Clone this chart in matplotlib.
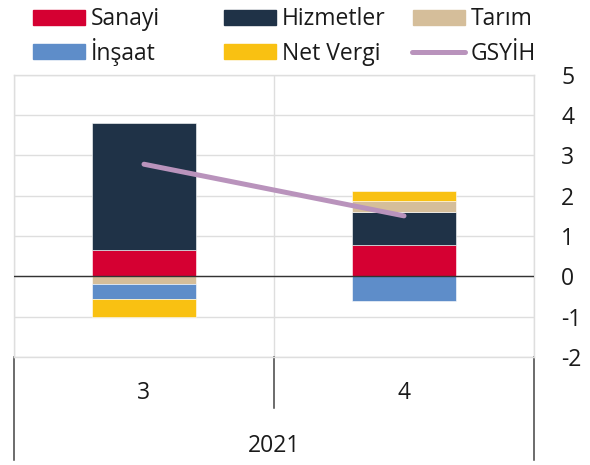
import matplotlib
matplotlib.use('Agg')
import matplotlib.pyplot as plt
from matplotlib.patches import Rectangle
from matplotlib.lines import Line2D
import matplotlib.transforms as mtransforms
import numpy as np

plt.rcParams['font.family'] = ['Open Sans', 'DejaVu Sans']
plt.rcParams['axes.unicode_minus'] = False

# ---- data ----
quarters = ['3', '4']
year = '2021'
series_names = ['Sanayi', 'Hizmetler', 'Tarım', 'İnşaat', 'Net Vergi']
sanayi = [0.65, 0.77]
hizmetler = [3.14, 0.82]
tarim = [-0.19, 0.27]
insaat = [-0.37, -0.61]
net_vergi = [-0.46, 0.26]
gsyih = [2.78, 1.50]
line_name = 'GSYİH'
yticks = [-2, -1, 0, 1, 2, 3, 4, 5]

series_values = [sanayi, hizmetler, tarim, insaat, net_vergi]
colors = ['#D50032', '#1F3247', '#D5BE9A', '#5E8DC9', '#F9C112']
line_color = '#B993BC'
txt_color = '#1a1a1a'
grid_color = '#DEDEDE'
FS = 16.5

W, H = 590, 465
fig = plt.figure(figsize=(W / 100, H / 100), dpi=100)
top_px, bot_px, left_px, right_px = 74.7, 357.0, 14.0, 534.0
ax = fig.add_axes([left_px / W, 1 - bot_px / H, (right_px - left_px) / W, (bot_px - top_px) / H])

x = np.arange(len(quarters))
pos_base = np.zeros(len(x))
neg_base = np.zeros(len(x))
for vals, col in zip(series_values, colors):
    v = np.array(vals, dtype=float)
    bottoms = np.where(v >= 0, pos_base, neg_base)
    ax.bar(x, v, bottom=bottoms, width=0.4, color=col, edgecolor='white', linewidth=0.4, zorder=2)
    pos_base = pos_base + np.where(v >= 0, v, 0)
    neg_base = neg_base + np.where(v < 0, v, 0)

ax.plot(x, gsyih, color=line_color, lw=3.6, solid_capstyle='round', zorder=4)
ax.axhline(0, color='#333333', lw=1.0, zorder=3)

ax.set_xlim(-0.5, 1.5)
ax.set_ylim(-2, 5)
ax.set_yticks(yticks)
ax.set_yticklabels([str(t) for t in yticks])
ax.yaxis.tick_right()
ax.tick_params(axis='y', length=0, pad=19.5, labelsize=FS, labelcolor=txt_color)
ax.set_xticks([-0.5, 0.5, 1.5])
ax.set_xticklabels([])
ax.tick_params(axis='x', length=0)
ax.grid(True, color=grid_color, lw=1.0, zorder=0)
ax.set_axisbelow(True)
for s in ax.spines.values():
    s.set_color(grid_color)
    s.set_linewidth(1.0)

# category labels
for xi, q in zip(x, quarters):
    ax.annotate(q, xy=(xi, 0), xycoords=('data', 'axes fraction'),
                xytext=(0, -(399.3 - bot_px) * 0.72), textcoords='offset points',
                ha='center', va='baseline', fontsize=FS, color=txt_color)
ax.annotate(year, xy=(0.5, 0), xycoords='axes fraction',
            xytext=(0, -(451.7 - bot_px) * 0.72), textcoords='offset points',
            ha='center', va='baseline', fontsize=FS, color=txt_color)

ax_h = bot_px - top_px
bt = mtransforms.blended_transform_factory(ax.transData, ax.transAxes)
for xv, depth in [(-0.5, 460), (0.5, 408), (1.5, 460)]:
    ax.add_line(Line2D([xv, xv], [0, -(depth - bot_px) / ax_h], transform=bt,
                       color='#444444', lw=1.1, clip_on=False))

# legend (manual)
col_x = [33, 224, 413]
row_y = [17.5, 51.7]
entries = [(series_names[0], colors[0], 'p'), (series_names[1], colors[1], 'p'), (series_names[2], colors[2], 'p'),
           (series_names[3], colors[3], 'p'), (series_names[4], colors[4], 'p'), (line_name, line_color, 'l')]
for i, (name, col, kind) in enumerate(entries):
    cx = col_x[i % 3]
    cy = row_y[i // 3]
    if kind == 'p':
        fig.patches.append(Rectangle((cx / W, 1 - (cy + 7.5) / H), 52 / W, 15 / H,
                                     transform=fig.transFigure, color=col))
    else:
        fig.lines.append(Line2D([(cx - 1) / W, (cx + 52) / W], [1 - cy / H, 1 - cy / H],
                                transform=fig.transFigure, color=col, lw=3.6,
                                solid_capstyle='round'))
    fig.text((cx + 58) / W, 1 - (cy + 7.8) / H, name, fontsize=FS, color=txt_color,
             ha='left', va='baseline')

fig.savefig('out.png', dpi=100)
